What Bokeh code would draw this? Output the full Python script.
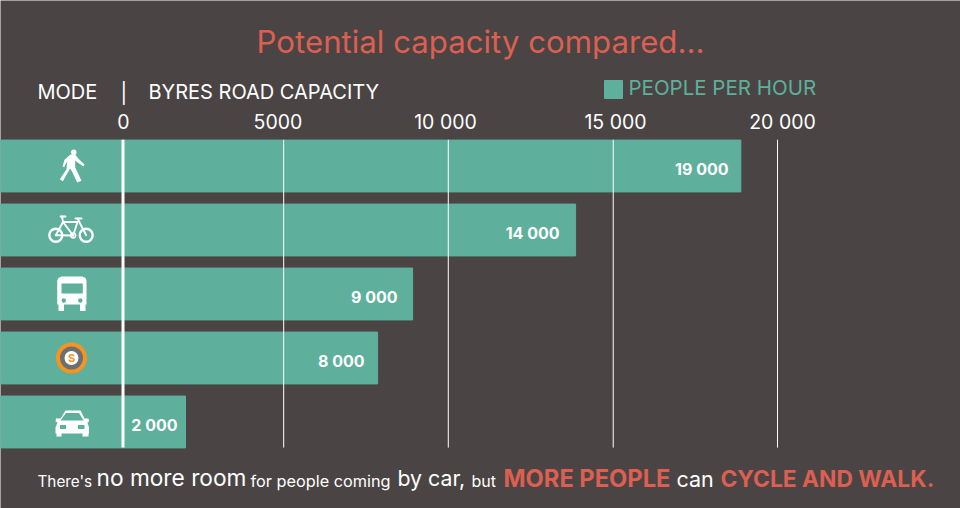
from bokeh.plotting import figure
from bokeh.embed import file_html
from bokeh.resources import INLINE
from bokeh.models import Range1d
from bokeh.core.properties import value

modes = ["Walking", "Cycling", "Bus", "Subway", "Car"]
capacity = [18880, 13830, 8850, 7780, 1910]
capacity_labels = ["19 000", "14 000", "9 000", "8 000", "2 000"]
label_right_px = [728, 559, 397, 364, 177]
grid_values = [4910, 9940, 14980, 20000]
tick_labels = ["0", "5000", "10 000", "15 000", "20 000"]
tick_px = [123, 277.5, 445, 615, 782]

BG = "#4a4544"; TEAL = "#5eb09c"; RED = "#dc5f52"; WHITE = "#ffffff"
ORANGE = "#f7941e"; GREY = "#6d6e71"
FONT = "Inter"

W, H = 960, 508
K = 0.032725
p = figure(width=W, height=H, output_backend="svg", toolbar_location=None,
           x_range=Range1d((0 - 122.5) / K, (960 - 122.5) / K),
           y_range=Range1d((508 - 165.5) / 64, (0 - 165.5) / 64),
           min_border=0, background_fill_color=BG, border_fill_color=BG,
           outline_line_color=None)
p.axis.visible = False
p.grid.visible = False
p.extra_x_ranges["px"] = Range1d(0, 960)
p.extra_y_ranges["px"] = Range1d(508, 0)

rows = list(range(len(modes)))
p.hbar(y=rows, left=(-20 - 122.5) / K, right=capacity, height=0.81, color=TEAL)
p.segment(x0=grid_values, x1=grid_values, y0=[-0.41] * 4, y1=[4.4] * 4,
          line_color=WHITE, line_width=1)
p.segment(x0=[0], x1=[0], y0=[-0.41], y1=[4.4], line_color=WHITE, line_width=3)


def txt(x, y, s, size, color=WHITE, bold=False, align="left"):
    p.text(x=[x], y=[y - 0.4 * size], text=[s], text_font=value(FONT), text_font_size=f"{size}px",
           text_color=color, text_align=align, text_baseline="alphabetic",
           text_font_style="bold" if bold else "normal",
           x_range_name="px", y_range_name="px")


txt(480, 54, "Potential capacity compared...", 31.2, RED, align="center")
txt(37, 99, "MODE", 20)
txt(120, 100, "|", 20)
txt(148, 99, "BYRES ROAD CAPACITY", 20)
txt(628, 95, "PEOPLE PER HOUR", 20.5, TEAL)
p.quad(left=[604], right=[622], top=[80], bottom=[98], color=TEAL,
       x_range_name="px", y_range_name="px")
for x, s in zip(tick_px, tick_labels):
    txt(x, 129, s, 19.5, align="center")
for i, s in enumerate(capacity_labels):
    txt(label_right_px[i], 175 + 64 * i, s, 16, bold=True, align="right")

txt(37, 487, "There's", 15.3)
txt(96, 486, "no more room", 22.7)
txt(250, 487, "for people coming", 16.3)
txt(397, 486, "by car,", 21.3)
txt(471, 487, "but", 16)
txt(503, 487, "MORE PEOPLE", 23.7, RED, bold=True)
txt(676, 487, "can", 21.5)
txt(720, 487, "CYCLE AND WALK.", 22.8, RED, bold=True)

PX = dict(x_range_name="px", y_range_name="px")


def poly(pts, color=WHITE):
    p.patch([a for a, _ in pts], [b for _, b in pts], color=color, line_width=0, **PX)


def lines(segs, w=2.2, color=WHITE):
    p.segment(*zip(*segs), line_color=color, line_width=w, line_cap="round", **PX)


def circ(x, y, r, fill=None, line=None, w=0):
    p.circle(x=[x], y=[y], radius=r, fill_color=fill, line_color=line, line_width=w, **PX)


def rrect(x0, y0, x1, y1, color=WHITE):
    poly([(x0, y0), (x1, y0), (x1, y1), (x0, y1)], color)


# walking figure
circ(73.3, 151.7, 2.7, WHITE)
poly([(x / 3, 130 + y / 3) for x, y in [
    (210, 72), (224, 72), (234, 85), (252, 102), (249, 108), (230, 95), (224, 90), (224, 110),
    (231, 125), (243, 151), (230, 156), (216, 126), (209, 114), (187, 152), (178, 146),
    (198, 116), (200, 92), (191, 110), (186, 108), (192, 88)]])

# bicycle
circ(55.3, 234.7, 6.5, None, WHITE, 2.4)
circ(85.7, 234.7, 6.5, None, WHITE, 2.4)
circ(72.7, 235, 2.4, None, WHITE, 1.5)
lines([(55.3, 234.7, 62.5, 221.5), (62.5, 221.5, 72.7, 235), (62.5, 221.5, 77, 221.5),
       (77, 221.5, 72.7, 235), (55.3, 234.7, 72.7, 235), (77, 218, 85.7, 234.7),
       (60, 216, 65, 216), (75, 218, 81, 218), (61.5, 216, 62.5, 221.5)], 1.9)

# bus
poly([(61, 276), (82, 276), (85, 277.5), (86, 280), (86, 304), (56.7, 304), (56.7, 280), (58, 277.5)])
rrect(58, 303, 63.5, 310.5)
rrect(79.5, 303, 85, 310.5)
rrect(61, 283, 82.3, 293, TEAL)
circ(63.3, 300, 2.2, TEAL)
circ(79.8, 300, 2.2, TEAL)

# subway roundel
circ(71, 357.5, 15.5, ORANGE)
circ(71, 357.5, 11.5, GREY)
circ(71, 357.5, 7, WHITE)
p.text(x=[71], y=[357.5], text=["S"], text_color=ORANGE, text_font=value(FONT),
       text_font_size="11px", text_font_style="bold", text_align="center",
       text_baseline="middle", **PX)

# car
poly([(65, 410), (80, 410), (84, 418), (88, 418), (88.5, 421), (87, 422), (88.5, 427), (88.5, 433),
      (55, 433), (55, 427), (57, 422), (55, 421), (55.5, 418), (60, 418)])
poly([(65.5, 412.5), (78.5, 412.5), (83, 420), (60, 420)], TEAL)
rrect(59.5, 424.5, 65.5, 428.5, TEAL)
rrect(77.5, 424.5, 84, 428.5, TEAL)
rrect(56, 432, 61, 436)
rrect(82, 432, 88, 436)

open("out.html", "w").write(file_html(p, INLINE))
